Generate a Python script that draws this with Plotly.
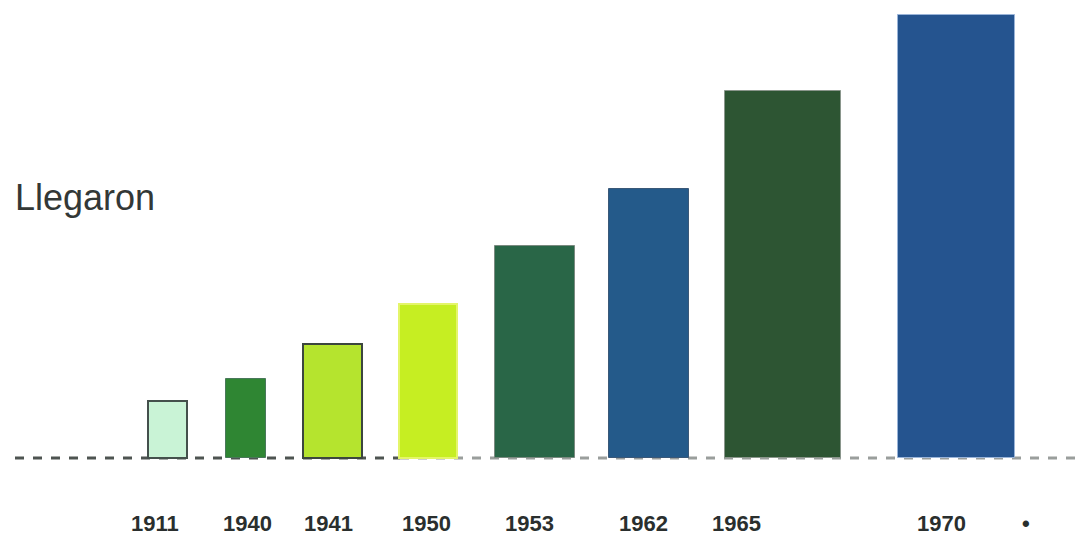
import plotly.graph_objects as go

# data
years = ["1911", "1940", "1941", "1950", "1953", "1962", "1965", "1970"]
values = [57, 79, 114, 154, 212, 269, 367, 443]
extra_label = "•"
side_title = "Llegaron"

# layout (pixel-like positions on a 0..1077 numeric axis)
bar_left = [148, 226, 303, 399, 495, 609, 725, 898]
bar_right = [187, 266, 362, 457, 575, 689, 841, 1015]
label_x = [155, 247, 328, 426, 529, 643, 736, 941, 1026]
fills = ["#c9f3d6", "#2f8633", "#b5e42e", "#c6ee22", "#296647", "#245a8a", "#2d5533", "#25548f"]
edges = ["#44504c", "#49785a", "#3c463e", "#e4f56a", "#7a8a80", "#3a5878", "#8a968c", "#9ab4d8"]
edge_w = [2, 1, 2, 2, 1, 1, 1, 1]

centers = [(l + r) / 2 for l, r in zip(bar_left, bar_right)]
widths = [r - l for l, r in zip(bar_left, bar_right)]

fig = go.Figure()
fig.add_trace(go.Bar(
    x=centers, y=values, width=widths,
    marker=dict(color=fills, line=dict(color=edges, width=edge_w)),
    hoverinfo="skip", showlegend=False,
))

# baseline: darker dashes on the left part, lighter grey on the right part
fig.add_shape(type="line", xref="x", yref="y", x0=15, x1=400, y0=0, y1=0,
              line=dict(color="#4e5451", width=3, dash="dash"), layer="below")
fig.add_shape(type="line", xref="x", yref="y", x0=400, x1=1077, y0=0, y1=0,
              line=dict(color="#9a9e9c", width=3, dash="dash"), layer="below")

for xp, txt in zip(label_x, years + [extra_label]):
    fig.add_annotation(x=xp, y=-65, xref="x", yref="y", text=txt, showarrow=False,
                       font=dict(family="Liberation Sans, Arial", size=22, color="#2a2f2e",
                                 weight="bold"),
                       xanchor="center", yanchor="middle")

fig.add_annotation(x=13, y=261, xref="x", yref="y", text=side_title, showarrow=False,
                   font=dict(family="Liberation Sans, Arial", size=36, color="#333836"),
                   xanchor="left", yanchor="middle")

fig.update_layout(
    width=1077, height=546, margin=dict(l=0, r=0, t=0, b=0),
    paper_bgcolor="white", plot_bgcolor="white",
    xaxis=dict(range=[0, 1077], visible=False, fixedrange=True),
    yaxis=dict(range=[-88, 458], visible=False, fixedrange=True),
    bargap=0,
)

fig.write_html("out.html", config={"displayModeBar": False},
               post_script="document.body.style.margin='0px';document.body.style.overflow='hidden';")
